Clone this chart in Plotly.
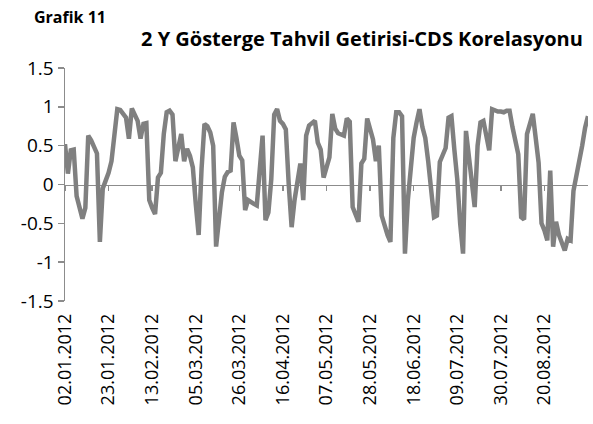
import plotly.graph_objects as go
import pandas as pd

# --- data -------------------------------------------------------------
dates = pd.bdate_range("2012-01-02", periods=181).strftime("%d.%m.%Y").tolist()

correlation = [
    0.52, 0.14, 0.44, 0.45, -0.15, -0.32, -0.44, -0.30, 0.63, 0.57,
    0.50, 0.40, -0.74, -0.05, 0.05, 0.15, 0.30, 0.60, 0.97, 0.96,
    0.92, 0.86, 0.59, 0.98, 0.90, 0.82, 0.59, 0.78, 0.79, -0.20,
    -0.30, -0.38, 0.09, 0.15, 0.65, 0.93, 0.95, 0.90, 0.30, 0.45,
    0.65, 0.30, 0.46, 0.37, 0.22, -0.25, -0.65, 0.20, 0.78, 0.75,
    0.67, 0.50, -0.80, -0.45, -0.10, 0.10, 0.16, 0.18, 0.80, 0.60,
    0.37, 0.31, -0.33, -0.20, -0.23, -0.25, -0.27, 0.15, 0.63, -0.46,
    -0.36, 0.07, 0.90, 0.97, 0.82, 0.78, 0.71, 0.00, -0.55, -0.20,
    0.05, 0.27, -0.20, 0.63, 0.76, 0.79, 0.82, 0.54, 0.45, 0.09,
    0.20, 0.35, 0.91, 0.72, 0.66, 0.64, 0.63, 0.85, 0.81, -0.29,
    -0.38, -0.48, 0.27, 0.33, 0.85, 0.72, 0.58, 0.30, 0.50, -0.40,
    -0.55, -0.65, -0.74, 0.60, 0.93, 0.93, 0.88, -0.89, -0.20, 0.22,
    0.60, 0.80, 0.97, 0.74, 0.60, 0.30, -0.05, -0.42, -0.40, 0.29,
    0.38, 0.47, 0.86, 0.88, 0.45, 0.07, -0.50, -0.89, 0.69, 0.40,
    0.10, -0.29, 0.50, 0.80, 0.82, 0.65, 0.44, 0.97, 0.95, 0.94,
    0.94, 0.93, 0.95, 0.95, 0.74, 0.55, 0.39, -0.42, -0.45, 0.65,
    0.78, 0.91, 0.60, 0.28, -0.50, -0.59, -0.72, 0.18, -0.80, -0.48,
    -0.65, -0.75, -0.85, -0.70, -0.72, -0.08, 0.10, 0.26, 0.50, 0.73,
    0.88,
]

tick_labels = [
    "02.01.2012", "23.01.2012", "13.02.2012", "05.03.2012", "26.03.2012",
    "16.04.2012", "07.05.2012", "28.05.2012", "18.06.2012", "09.07.2012",
    "30.07.2012", "20.08.2012",
]
tick_positions = [dates.index(lbl) for lbl in tick_labels]

y_tick_values = [1.5, 1, 0.5, 0, -0.5, -1, -1.5]
y_tick_text = ["1.5", "1", "0.5", "0", "-0.5", "-1", "-1.5"]

title_text = "2 Y Gösterge Tahvil Getirisi-CDS Korelasyonu"
chart_label = "Grafik 11"

# --- figure -----------------------------------------------------------
x_idx = list(range(len(correlation)))
GRAY = "#808080"
AXIS = "#8c8c8c"
FONT = "Open Sans"
x_range = [0, len(correlation) - 1]

fig = go.Figure()
fig.add_trace(go.Scatter(
    x=x_idx, y=correlation, mode="lines",
    line=dict(color=GRAY, width=4.5), hoverinfo="skip", showlegend=False,
))
# invisible companion trace so the zero-crossing category axis is drawn
fig.add_trace(go.Scatter(
    x=x_idx, y=correlation, mode="lines", opacity=0,
    line=dict(color=GRAY, width=0), hoverinfo="skip", showlegend=False,
    xaxis="x2",
))

fig.update_layout(
    width=593, height=424,
    margin=dict(l=65, r=5, t=68, b=123),
    paper_bgcolor="white", plot_bgcolor="white",
    showlegend=False,
    xaxis=dict(
        range=x_range,
        tickmode="array", tickvals=tick_positions, ticktext=tick_labels,
        tickangle=-90, ticks="", showline=False, showgrid=False, zeroline=False,
        tickfont=dict(family=FONT, size=18, color="black"),
        ticklabelstandoff=8,
    ),
    xaxis2=dict(
        range=x_range, overlaying="x", anchor="free", position=0.5,
        tickmode="array", tickvals=tick_positions, showticklabels=False,
        ticks="outside", ticklen=5, tickwidth=1.5, tickcolor=AXIS,
        showline=True, linecolor=AXIS, linewidth=1.5, showgrid=False, zeroline=False,
        layer="below traces",
    ),
    yaxis=dict(
        range=[-1.5, 1.5], tickmode="array", tickvals=y_tick_values, ticktext=y_tick_text,
        ticks="outside", ticklen=6, tickwidth=1.5, tickcolor=AXIS,
        showline=True, linecolor=AXIS, linewidth=1.5, showgrid=False, zeroline=False,
        tickfont=dict(family=FONT, size=19, color="black"),
    ),
    annotations=[
        dict(text=f"<b>{chart_label}</b>", xref="paper", yref="paper",
             x=-0.063, y=1.219, xanchor="left", yanchor="middle", showarrow=False,
             font=dict(family=FONT, size=16, color="black")),
        dict(text=f"<b>{title_text}</b>", xref="paper", yref="paper",
             x=0.994, y=1.125, xanchor="right", yanchor="middle", showarrow=False,
             font=dict(family=FONT, size=20, color="black")),
    ],
)

fig.write_html(
    "out.html",
    config={"displayModeBar": False, "staticPlot": True},
    post_script="document.body.style.margin='0';",
)
